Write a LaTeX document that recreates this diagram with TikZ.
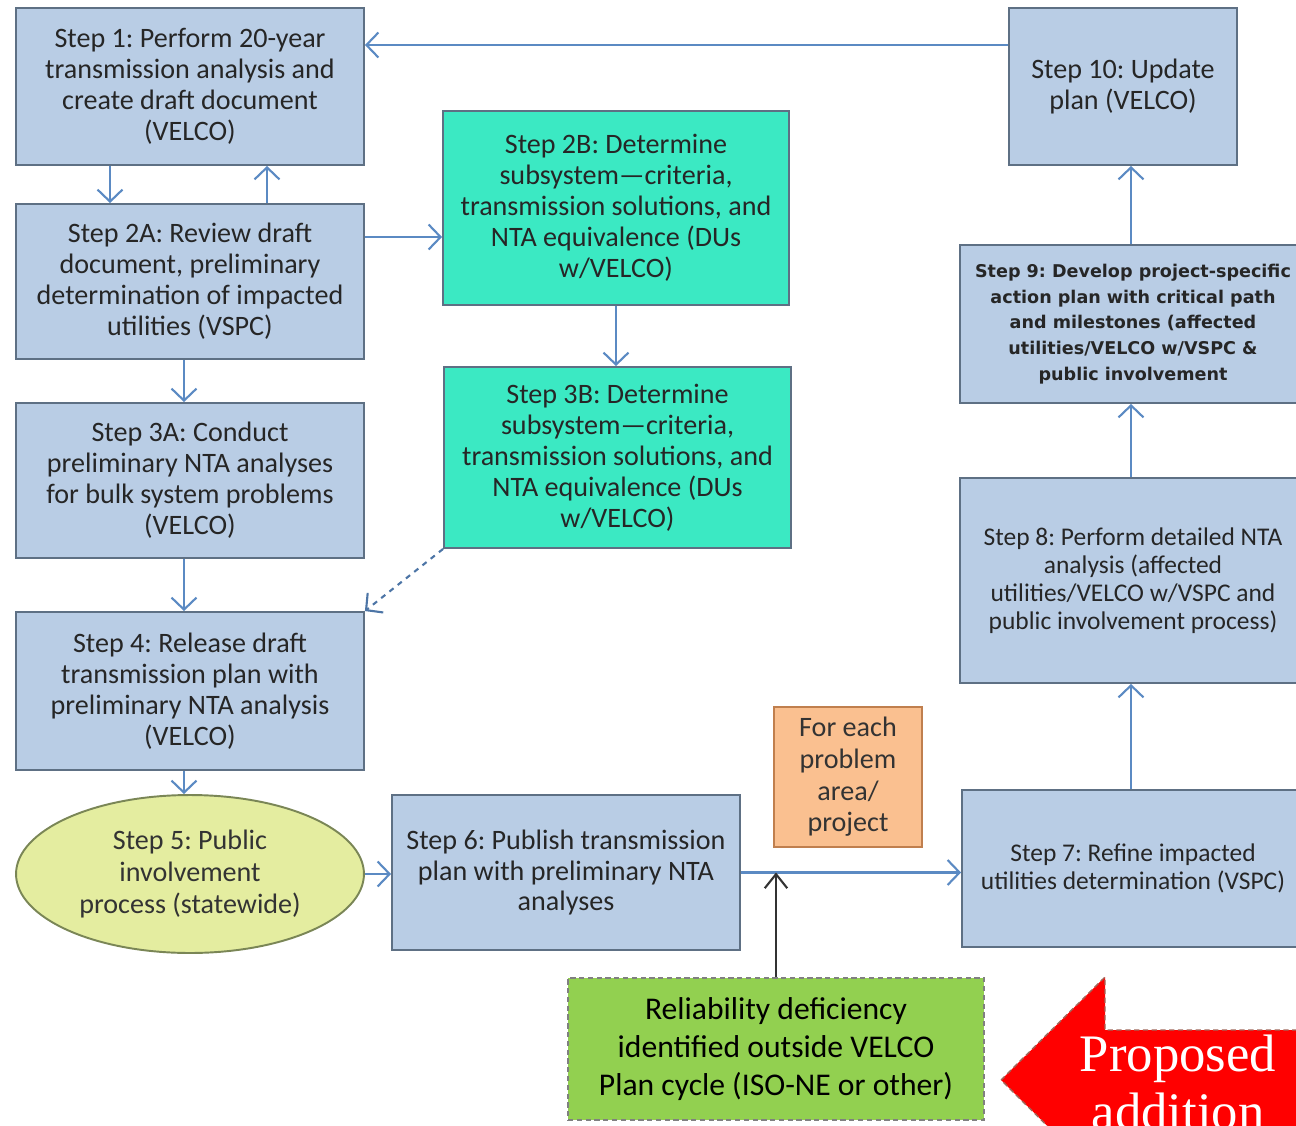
\documentclass[tikz,border=0pt]{standalone}
\usepackage{fontspec}
\setmainfont{Carlito}
\newfontfamily\ninefont{DejaVu Sans}
\newfontfamily\propfont{Liberation Serif}
\usepackage{xcolor}
\usepackage{tikz}
\usetikzlibrary{arrows.meta,shapes.geometric}
\frenchspacing

\definecolor{stepblue}{HTML}{B9CDE5}
\definecolor{stepline}{HTML}{5E7084}
\definecolor{subteal}{HTML}{3BE9C3}
\definecolor{publicfill}{HTML}{E4EDA0}
\definecolor{publicline}{HTML}{7A8656}
\definecolor{notefill}{HTML}{FAC090}
\definecolor{noteline}{HTML}{C07F4E}
\definecolor{outfill}{HTML}{92D050}
\definecolor{arrowblue}{HTML}{5B8AC3}
\definecolor{propred}{HTML}{FF0000}
\definecolor{propline}{HTML}{A0675A}

\begin{document}
\begin{tikzpicture}[
        x=0.02cm, y=-0.02cm,
        stepbox/.style={rectangle, draw=stepline, line width=1.1pt, fill=stepblue, text=black!85, align=center, inner sep=0pt, font=\fontsize{16}{17.6}\selectfont},
        subbox/.style={stepbox, fill=subteal},
        rightbox/.style={stepbox, font=\fontsize{14.5}{16}\selectfont},
        public/.style={ellipse, draw=publicline, line width=1.1pt, fill=publicfill, text=black!80, align=center, inner sep=0pt, font=\fontsize{16}{18}\selectfont},
        note/.style={rectangle, draw=noteline, line width=1.1pt, fill=notefill, text=black!80, align=center, inner sep=0pt, font=\fontsize{16}{18}\selectfont},
        outside/.style={rectangle, draw=black!50, densely dashed, line width=0.8pt, fill=outfill, align=center, inner sep=0pt, font=\fontsize{18}{21.5}\selectfont},
        arrow/.style={-{Straight Barb[length=0.24cm, width=0.5cm]}, line width=1.2pt, color=arrowblue},
        dash_arrow/.style={arrow, dashed, color=arrowblue!85!black},
        black_arrow/.style={-{Straight Barb[length=0.28cm, width=0.45cm]}, line width=1.2pt, color=black!80}
    ]
    \clip (0,0) rectangle (1296,1126);

    % Left column
    \node[stepbox, minimum width=6.96cm, minimum height=3.14cm] (s1) at (190,86.5) {Step 1: Perform 20-year\\transmission analysis and\\create draft document\\(VELCO)};
    \node[stepbox, minimum width=6.96cm, minimum height=3.10cm] (s2a) at (190,281.5) {Step 2A: Review draft\\document, preliminary\\determination of impacted\\utilities (VSPC)};
    \node[stepbox, minimum width=6.96cm, minimum height=3.10cm] (s3a) at (190,480.5) {Step 3A: Conduct\\preliminary NTA analyses\\for bulk system problems\\(VELCO)};
    \node[stepbox, minimum width=6.96cm, minimum height=3.16cm] (s4) at (190,691) {Step 4: Release draft\\transmission plan with\\preliminary NTA analysis\\(VELCO)};
    \node[public, minimum width=6.96cm, minimum height=3.16cm] (s5) at (190,874) {Step 5: Public\\involvement\\process (statewide)};

    % Subsystem steps
    \node[subbox, minimum width=6.92cm, minimum height=3.88cm] (s2b) at (616,208) {Step 2B: Determine\\subsystem---criteria,\\transmission solutions, and\\NTA equivalence (DUs\\w/VELCO)};
    \node[subbox, minimum width=6.94cm, minimum height=3.62cm] (s3b) at (617.5,457.5) {Step 3B: Determine\\subsystem---criteria,\\transmission solutions, and\\NTA equivalence (DUs\\w/VELCO)};

    % Bottom row
    \node[stepbox, minimum width=6.96cm, minimum height=3.10cm] (s6) at (566,872.5) {Step 6: Publish transmission\\plan with preliminary NTA\\analyses};
    \node[note, minimum width=2.96cm, minimum height=2.80cm] (each) at (848,777) {For each\\problem\\area/\\project};
    \node[outside, minimum width=8.32cm, minimum height=2.84cm] (deficiency) at (776,1049) {Reliability deficiency\\identified outside VELCO\\Plan cycle (ISO-NE or other)};

    % Right column
    \node[rightbox, minimum width=6.84cm, minimum height=3.14cm] (s7) at (1133,868.5) {Step 7: Refine impacted\\utilities determination (VSPC)};
    \node[rightbox, minimum width=6.92cm, minimum height=4.10cm] (s8) at (1133,580.5) {Step 8: Perform detailed NTA\\analysis (affected\\utilities/VELCO w/VSPC and\\public involvement process)};
    \node[stepbox, minimum width=6.92cm, minimum height=3.16cm, font=\ninefont\bfseries\fontsize{10}{14.6}\selectfont] (s9) at (1133,324) {Step 9: Develop project-specific\\action plan with critical path\\and milestones (affected\\utilities/VELCO w/VSPC \&\\public involvement};
    \node[stepbox, minimum width=4.56cm, minimum height=3.14cm] (s10) at (1123,86.5) {Step 10: Update\\plan (VELCO)};
    \coordinate (upline) at (1131,0);

    % Proposed addition
    \draw[fill=propred, draw=propline, densely dashed, line width=0.8pt] (1001,1080) -- (1105,977) -- (1105,1030) -- (1330,1030) -- (1330,1130) -- (1105,1130) -- (1105,1183) -- cycle;
    \node[text=white, align=center, font=\propfont\fontsize{30}{33}\selectfont] (proposed) at (1178,1082) {Proposed\\addition};

    % Arrows
    \draw[arrow] ([yshift=0.83cm]s10.west) -- ([yshift=0.83cm]s1.east);
    \draw[arrow] ([xshift=-1.6cm]s1.south) -- ([xshift=-1.6cm]s2a.north);
    \draw[arrow] ([xshift=1.54cm]s2a.north) -- ([xshift=1.54cm]s1.south);
    \coordinate (c2a) at ([yshift=0.89cm]s2a.east);
    \draw[arrow] (c2a) -- (c2a -| s2b.west);
    \draw[arrow] (s2b.south) -- (s2b.south |- s3b.north);
    \draw[arrow] ([xshift=-0.12cm]s2a.south) -- ([xshift=-0.12cm]s3a.north);
    \draw[arrow] ([xshift=-0.12cm]s3a.south) -- ([xshift=-0.12cm]s4.north);
    \draw[arrow] ([xshift=-0.12cm]s4.south) -- ([xshift=-0.12cm]s5.north);
    \draw[dash_arrow] (s3b.south west) -- (s4.north east);
    \draw[arrow] (s5.east) -- (s5.east -| s6.west);
    \draw[arrow] (s6.east) -- (s6.east -| s7.west);
    \draw[black_arrow] (deficiency.north) -- (deficiency.north |- s6.east);
    \draw[arrow] (s7.north -| upline) -- (s8.south -| upline);
    \draw[arrow] (s8.north -| upline) -- (s9.south -| upline);
    \draw[arrow] (s9.north -| upline) -- (s10.south -| upline);

    \end{tikzpicture}
\end{document}
